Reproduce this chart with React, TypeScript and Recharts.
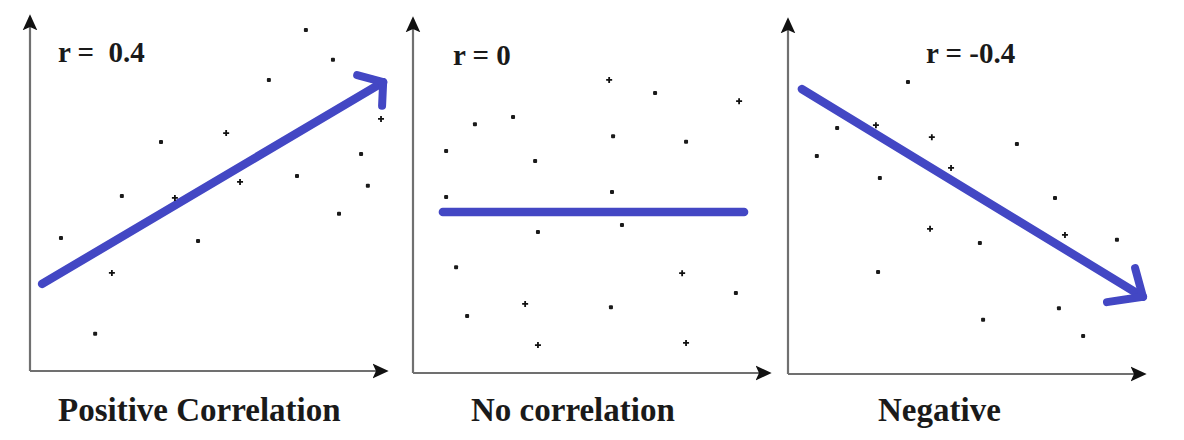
import React from 'react';
import { ComposedChart, Scatter, Line, XAxis, YAxis } from 'recharts';

type Pt = { x: number; y: number };

// r = 0.4 panel
const posDots: Pt[] = [
  { x: 77.5, y: 96.3 }, { x: 85.1, y: 87.9 }, { x: 67.1, y: 82.2 }, { x: 36.8, y: 64.7 },
  { x: 93.0, y: 61.3 }, { x: 75.0, y: 55.1 }, { x: 94.9, y: 52.3 }, { x: 25.8, y: 49.4 },
  { x: 86.8, y: 44.4 }, { x: 8.7, y: 37.6 }, { x: 47.2, y: 36.7 }, { x: 18.3, y: 10.5 },
];
const posCrosses: Pt[] = [
  { x: 98.6, y: 71.2 }, { x: 55.1, y: 67.2 }, { x: 59.0, y: 53.4 }, { x: 40.7, y: 48.9 }, { x: 23.0, y: 27.7 },
];
const posTrend: Pt[] = [{ x: 3.4, y: 24.6 }, { x: 99.2, y: 81.6 }];
const posHead: Pt[] = [{ x: 91.9, y: 83.6 }, { x: 99.2, y: 81.6 }, { x: 98.9, y: 74.9 }];

// r = 0 panel
const zeroDots: Pt[] = [
  { x: 68.0, y: 79.1 }, { x: 17.4, y: 70.3 }, { x: 28.1, y: 72.3 }, { x: 56.2, y: 66.9 },
  { x: 76.7, y: 65.3 }, { x: 9.3, y: 62.7 }, { x: 34.3, y: 59.9 }, { x: 9.3, y: 49.7 },
  { x: 55.9, y: 51.1 }, { x: 58.7, y: 41.8 }, { x: 35.1, y: 39.8 }, { x: 12.1, y: 29.9 },
  { x: 90.7, y: 22.6 }, { x: 15.2, y: 16.1 }, { x: 55.6, y: 18.6 },
];
const zeroCrosses: Pt[] = [
  { x: 55.1, y: 82.8 }, { x: 91.6, y: 76.8 }, { x: 75.6, y: 28.2 }, { x: 31.5, y: 19.5 },
  { x: 35.1, y: 7.9 }, { x: 76.7, y: 8.5 },
];
const zeroTrend: Pt[] = [{ x: 8.4, y: 45.5 }, { x: 93.0, y: 45.5 }];

// r = -0.4 panel
const negDots: Pt[] = [
  { x: 33.7, y: 82.5 }, { x: 13.8, y: 69.5 }, { x: 64.3, y: 65.0 }, { x: 8.1, y: 61.6 },
  { x: 25.8, y: 55.4 }, { x: 75.0, y: 49.7 }, { x: 53.9, y: 37.0 }, { x: 92.4, y: 37.9 },
  { x: 25.3, y: 28.8 }, { x: 76.1, y: 18.6 }, { x: 54.8, y: 15.3 }, { x: 82.9, y: 10.7 },
];
const negCrosses: Pt[] = [
  { x: 24.7, y: 70.3 }, { x: 40.4, y: 66.9 }, { x: 45.8, y: 58.2 }, { x: 39.9, y: 41.0 }, { x: 77.8, y: 39.3 },
];
const negTrend: Pt[] = [{ x: 3.9, y: 80.5 }, { x: 99.7, y: 21.8 }];
const negHead: Pt[] = [{ x: 97.5, y: 29.9 }, { x: 99.7, y: 21.8 }, { x: 89.6, y: 20.3 }];

const rLabels = ['r =  0.4', 'r = 0', 'r = -0.4'];
const captions = ['Positive Correlation', 'No correlation', 'Negative'];

const BLUE = '#4347c4';
const FONT = '"Liberation Serif", "Times New Roman", serif';

const Dot = (p: any) => <rect x={p.cx - 2} y={p.cy - 2} width={4} height={4} rx={1} fill="#1a1a1a" />;
const Cross = (p: any) => (
  <path d={`M${p.cx - 3},${p.cy}H${p.cx + 3}M${p.cx},${p.cy - 3}V${p.cy + 3}`} stroke="#111" strokeWidth={1.8} />
);

interface PanelProps {
  id: string;
  left: number;
  top: number;
  dots: Pt[];
  crosses: Pt[];
  trend: Pt[];
  head?: Pt[];
}

const ArrowMarker = ({ id, angle }: { id: string; angle: number }) => (
  <marker id={id} viewBox="0 0 12 12" refX="10" refY="6" markerWidth="16" markerHeight="16"
    markerUnits="userSpaceOnUse" orient={String(angle)}>
    <path d="M0,0.5 L12,6 L0,11.5 L2.5,6 z" fill="#111" />
  </marker>
);

// 12px of padding left/top so the axis arrowheads are not clipped by the svg;
// axes need a non-zero size or recharts skips drawing them, so 1px each
const PAD = 12;
const Panel: React.FC<PanelProps> = ({ id, left, top, dots, crosses, trend, head }) => (
  <div style={{ position: 'absolute', left: left - PAD - 1, top: top - PAD }}>
    <ComposedChart width={391 + PAD} height={380 + PAD} margin={{ top: PAD, right: 34, bottom: 25, left: PAD }}>
      <defs>
        <ArrowMarker id={`right-${id}`} angle={0} />
        <ArrowMarker id={`up-${id}`} angle={270} />
      </defs>
      <XAxis type="number" dataKey="x" domain={[0, 100]} height={1} tick={false} tickLine={false}
        axisLine={{ stroke: '#707070', strokeWidth: 2.2, markerEnd: `url(#right-${id})` }} />
      <YAxis type="number" dataKey="y" domain={[0, 100]} width={1} tick={false} tickLine={false}
        axisLine={{ stroke: '#707070', strokeWidth: 2.2, markerStart: `url(#up-${id})` }} />
      <Scatter data={dots} shape={Dot} isAnimationActive={false} />
      <Scatter data={crosses} shape={Cross} isAnimationActive={false} />
      <Line data={trend} dataKey="y" stroke={BLUE} strokeWidth={8.5} strokeLinecap="round" dot={false}
        activeDot={false} isAnimationActive={false} />
      {head && (
        <Line data={head} dataKey="y" stroke={BLUE} strokeWidth={8} strokeLinecap="round" strokeLinejoin="round"
          dot={false} activeDot={false} isAnimationActive={false} />
      )}
    </ComposedChart>
  </div>
);

export default function App() {
  const panels = [
    { id: 'p', left: 30, top: 17, dots: posDots, crosses: posCrosses, trend: posTrend, head: posHead },
    { id: 'z', left: 413, top: 19, dots: zeroDots, crosses: zeroCrosses, trend: zeroTrend },
    { id: 'n', left: 788, top: 20, dots: negDots, crosses: negCrosses, trend: negTrend, head: negHead },
  ];
  const labelX = [58, 453, 926];
  const labelY = [62, 65, 63];
  const captionX = [58, 471, 878];
  return (
    <div style={{ position: 'absolute', left: 0, top: 0, width: 1184, height: 440, background: '#fff' }}>
      {panels.map((p) => (
        <Panel key={p.id} {...p} />
      ))}
      <svg width={1184} height={440} style={{ position: 'absolute', left: 0, top: 0, pointerEvents: 'none' }}>
        {rLabels.map((t, i) => (
          <text key={t} x={labelX[i]} y={labelY[i]} fontFamily={FONT} fontWeight="bold" fontSize={29}
            fill="#1a1a1a" style={{ whiteSpace: 'pre' }}>{t}</text>
        ))}
        {captions.map((t, i) => (
          <text key={t} x={captionX[i]} y={421} fontFamily={FONT} fontWeight="bold" fontSize={33}
            fill="#1a1a1a">{t}</text>
        ))}
      </svg>
    </div>
  );
}
